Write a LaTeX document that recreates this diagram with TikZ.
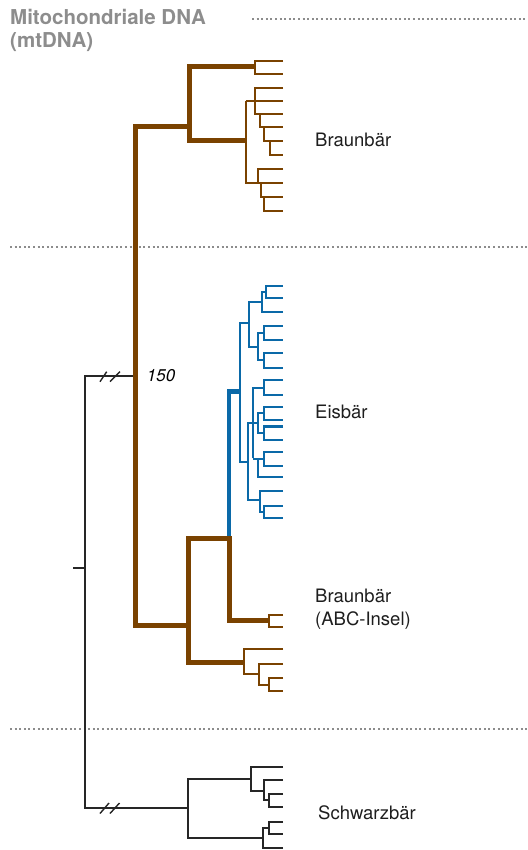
\documentclass[tikz,border=0pt]{standalone}
\usepackage{fontspec}
\setmainfont{TeX Gyre Heros}
\definecolor{brn}{HTML}{7A4200}
\definecolor{blu}{HTML}{0A69A8}
\definecolor{ttl}{HTML}{8D8D8D}
\definecolor{dotc}{HTML}{8C8C8C}
\definecolor{lbl}{HTML}{1E1E1E}
\tikzset{
  brthick/.style={draw=brn,line width=5pt,line join=miter},
  brthin/.style={draw=brn,line width=2.2pt,line join=miter},
  bluthick/.style={draw=blu,line width=4.5pt,line join=miter},
  bluthin/.style={draw=blu,line width=2.2pt,line join=miter},
  blk/.style={draw=black!85,line width=1.4pt,line join=miter},
  dotline/.style={draw=dotc,line width=2pt,dash pattern=on 2pt off 2.6pt},
  lab/.style={anchor=base west,inner sep=0pt,text=lbl,font=\fontsize{18.5}{22}\selectfont},
  ttlab/.style={anchor=base west,inner sep=0pt,text=ttl,font=\fontsize{20.5}{23}\selectfont\bfseries}
}
\begin{document}
\begin{tikzpicture}[x=1pt,y=-1pt]
\useasboundingbox (0,0) rectangle (527,850);
% title
\node[ttlab] (t1) at (10,25) {Mitochondriale DNA};
\node[ttlab] (t2) at (10,48) {(mtDNA)};
% dotted separators
\draw[dotline] (252,19) -- (527,19);
\draw[dotline] (10,247) -- (527,247);
\draw[dotline] (10,729) -- (527,729);
% black outgroup lines
\draw[blk] (135,376) -| (85,808) -- (188,808);
\draw[blk] (73,568) -- (85,568);
\draw[blk] (100,381.7) -- (106.7,371.7);
\draw[blk] (110,381.7) -- (120,371.7);
\draw[blk] (100,813.5) -- (109,803);
\draw[blk] (110,813.5) -- (119.5,803);
\node[anchor=base west,inner sep=0pt,font=\fontsize{17}{20}\selectfont\itshape] (n150) at (146.7,381.7) {150};
% black clade
\draw[blk] (251,779) -| (188,838) -- (263,838);
\draw[blk] (283,767) -| (251,791) -- (264,791);
\draw[blk] (283,780) -| (264,800) -- (269,800);
\draw[blk] (283,794) -| (269,807) -- (283,807);
\draw[blk] (283,848) -| (263,828) -- (269,828);
\draw[blk] (283,822) -| (269,834) -- (283,834);
% blue thick stem
\draw[bluthick] (229,540) -- (229,391.7) -- (240,391.7);
% blue thin
\draw[bluthin] (249,323.3) -| (240,461.7) -- (247.7,461.7);
\draw[bluthin] (261.7,301.7) -| (249,346.7) -- (257.7,346.7);
\draw[bluthin] (283,311.7) -| (261.7,291.7) -- (265.7,291.7);
\draw[bluthin] (283,285.7) -| (265.7,298.3) -- (283,298.3);
\draw[bluthin] (264.3,333.3) -| (257.7,360) -- (264.3,360);
\draw[bluthin] (283,325.7) -| (264.3,340) -- (283,340);
\draw[bluthin] (283,353.3) -| (264.3,367.7) -- (283,367.7);
\draw[bluthin] (253.3,458.3) -- (253.3,387.7) -- (264.3,387.7);
\draw[bluthin] (283,380) -| (264.3,395) -- (283,395);
\draw[bluthin] (258.3,423.3) -| (247.7,500) -- (260,500);
\draw[bluthin] (264.3,413.3) -| (258.3,433.3) -- (264.3,433.3);
\draw[bluthin] (283,406.7) -| (264.3,420) -- (283,420);
\draw[bluthin] (283,426.5) -| (264.3,440) -- (283,440);
\draw[bluthin] (253.3,458.8) -- (264.3,458.8);
\draw[bluthin] (258.3,458.8) -- (258.3,477.3) -- (283,477.3);
\draw[bluthin] (283,451.7) -| (264.3,466) -- (283,466);
\draw[bluthin] (283,490.7) -| (260,512) -- (264.3,512);
\draw[bluthin] (283,506) -| (264.3,518.3) -- (283,518.3);
% brown thick
\draw[brthick] (189,127) -| (135,625) -- (188,625);
\draw[brthick] (255,67) -| (189,141) -- (246,141);
\draw[brthick] (229,538) -| (188,662) -- (244,662);
\draw[brthick] (229,536) -- (229,620) -- (269,620);
% brown thin upper
\draw[brthin] (283,60.7) -| (255,74) -- (283,74);
\draw[brthin] (246,101) -- (283,101);
\draw[brthin] (246,101) -- (246,182.7) -- (283,182.7);
\draw[brthin] (283,88.3) -| (255,114) -- (283,114);
\draw[brthin] (260,114) -- (260,127.3) -- (283,127.3);
\draw[brthin] (264,127.3) -- (264,141.3) -- (283,141.3);
\draw[brthin] (270,141.3) -- (270,154.7) -- (283,154.7);
\draw[brthin] (283,169.3) -| (258,182.7);
\draw[brthin] (261,182.7) -- (261,196.7) -- (283,196.7);
\draw[brthin] (264,196.7) -- (264,210.7) -- (283,210.7);
% brown thin lower
\draw[brthin] (283,615) -| (269,627) -- (283,627);
\draw[brthin] (283,649) -| (244,674) -- (259,674);
\draw[brthin] (283,664) -| (259,685) -- (269,685);
\draw[brthin] (283,678) -| (269,691) -- (283,691);
% labels
\node[lab] (l1) at (315,146.7) {Braunbär};
\node[lab] (l2) at (315,418) {Eisbär};
\node[lab] (l3) at (315,602.7) {Braunbär};
\node[lab] (l4) at (315,625) {(ABC-Insel)};
\node[lab] (l5) at (318,819) {Schwarzbär};
\end{tikzpicture}
\end{document}
